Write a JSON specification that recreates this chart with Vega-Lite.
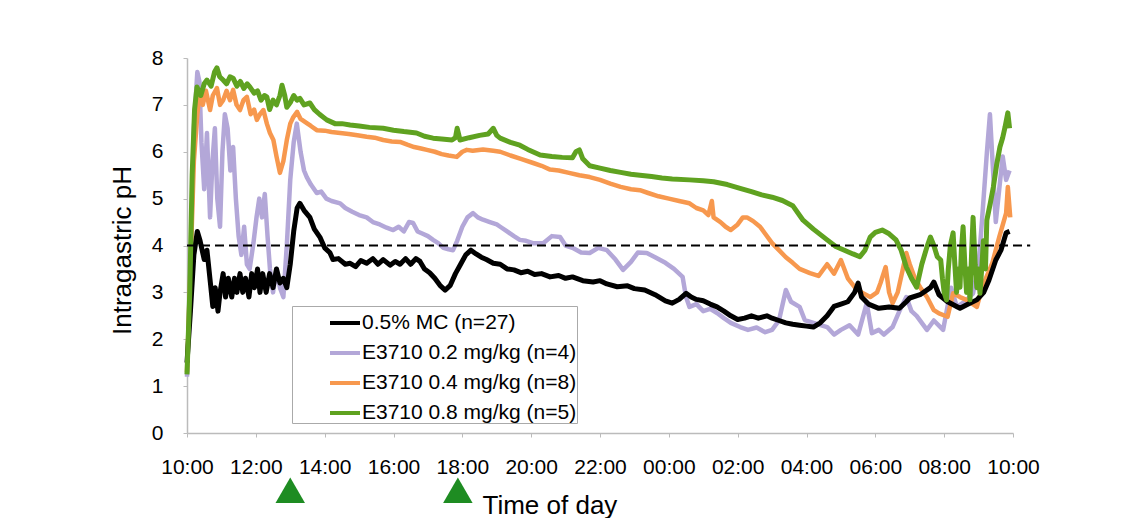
{
  "$schema": "https://vega.github.io/schema/vega-lite/v6.json",
  "width": 826,
  "height": 375,
  "autosize": {"type": "none"},
  "padding": {"left": 187, "top": 58, "right": 125, "bottom": 85},
  "background": "white",
  "config": {"view": {"stroke": null}, "font": "Liberation Sans"},
  "datasets": {
    "mc": [
      {"t":0,"pH":1.5},{"t":0.1,"pH":2.6},{"t":0.2,"pH":3.8},{"t":0.3,"pH":4.3},{"t":0.38,"pH":4.1},{"t":0.5,"pH":3.7},{"t":0.58,"pH":3.9},{"t":0.68,"pH":3.2},{"t":0.75,"pH":2.7},{"t":0.82,"pH":3.1},{"t":0.9,"pH":2.6},{"t":0.96,"pH":3.0},{"t":1.05,"pH":3.4},{"t":1.12,"pH":2.9},{"t":1.2,"pH":3.3},{"t":1.3,"pH":2.9},{"t":1.38,"pH":3.3},{"t":1.45,"pH":3.0},{"t":1.54,"pH":3.4},{"t":1.62,"pH":3.0},{"t":1.7,"pH":3.3},{"t":1.8,"pH":2.9},{"t":1.88,"pH":3.4},{"t":1.96,"pH":3.1},{"t":2.05,"pH":3.5},{"t":2.12,"pH":3.0},{"t":2.2,"pH":3.4},{"t":2.3,"pH":3.0},{"t":2.4,"pH":3.4},{"t":2.5,"pH":3.1},{"t":2.6,"pH":3.5},{"t":2.7,"pH":3.2},{"t":2.8,"pH":3.3},{"t":2.9,"pH":3.1},{"t":3.0,"pH":3.6},{"t":3.1,"pH":4.3},{"t":3.2,"pH":4.8},{"t":3.28,"pH":4.9},{"t":3.4,"pH":4.75},{"t":3.57,"pH":4.6},{"t":3.7,"pH":4.35},{"t":3.86,"pH":4.18},{"t":4.0,"pH":3.95},{"t":4.15,"pH":3.85},{"t":4.24,"pH":3.7},{"t":4.4,"pH":3.72},{"t":4.6,"pH":3.6},{"t":4.74,"pH":3.62},{"t":4.9,"pH":3.55},{"t":5.05,"pH":3.68},{"t":5.22,"pH":3.62},{"t":5.4,"pH":3.72},{"t":5.55,"pH":3.6},{"t":5.7,"pH":3.7},{"t":5.9,"pH":3.58},{"t":6.05,"pH":3.66},{"t":6.19,"pH":3.6},{"t":6.35,"pH":3.72},{"t":6.5,"pH":3.6},{"t":6.65,"pH":3.72},{"t":6.77,"pH":3.66},{"t":6.9,"pH":3.5},{"t":7.05,"pH":3.42},{"t":7.2,"pH":3.3},{"t":7.35,"pH":3.15},{"t":7.5,"pH":3.05},{"t":7.65,"pH":3.15},{"t":7.8,"pH":3.4},{"t":7.95,"pH":3.6},{"t":8.1,"pH":3.8},{"t":8.25,"pH":3.9},{"t":8.4,"pH":3.82},{"t":8.55,"pH":3.75},{"t":8.7,"pH":3.7},{"t":8.9,"pH":3.62},{"t":9.1,"pH":3.6},{"t":9.3,"pH":3.5},{"t":9.5,"pH":3.48},{"t":9.7,"pH":3.42},{"t":9.9,"pH":3.45},{"t":10.1,"pH":3.38},{"t":10.3,"pH":3.4},{"t":10.55,"pH":3.33},{"t":10.8,"pH":3.36},{"t":11.0,"pH":3.3},{"t":11.2,"pH":3.33},{"t":11.5,"pH":3.25},{"t":11.8,"pH":3.22},{"t":12.0,"pH":3.25},{"t":12.2,"pH":3.18},{"t":12.5,"pH":3.12},{"t":12.8,"pH":3.14},{"t":13.0,"pH":3.08},{"t":13.3,"pH":3.05},{"t":13.6,"pH":2.95},{"t":13.9,"pH":2.82},{"t":14.1,"pH":2.77},{"t":14.3,"pH":2.85},{"t":14.5,"pH":2.98},{"t":14.65,"pH":2.9},{"t":14.8,"pH":2.85},{"t":15.0,"pH":2.82},{"t":15.2,"pH":2.75},{"t":15.4,"pH":2.69},{"t":15.6,"pH":2.6},{"t":15.8,"pH":2.5},{"t":16.0,"pH":2.42},{"t":16.2,"pH":2.45},{"t":16.4,"pH":2.5},{"t":16.6,"pH":2.45},{"t":16.85,"pH":2.5},{"t":17.0,"pH":2.45},{"t":17.2,"pH":2.4},{"t":17.4,"pH":2.35},{"t":17.6,"pH":2.32},{"t":17.8,"pH":2.3},{"t":18.0,"pH":2.28},{"t":18.2,"pH":2.26},{"t":18.4,"pH":2.35},{"t":18.6,"pH":2.5},{"t":18.8,"pH":2.7},{"t":19.0,"pH":2.75},{"t":19.2,"pH":2.8},{"t":19.4,"pH":3.0},{"t":19.5,"pH":3.2},{"t":19.6,"pH":2.9},{"t":19.8,"pH":2.75},{"t":20.1,"pH":2.66},{"t":20.4,"pH":2.69},{"t":20.7,"pH":2.66},{"t":20.9,"pH":2.8},{"t":21.0,"pH":2.88},{"t":21.3,"pH":2.95},{"t":21.6,"pH":3.1},{"t":21.7,"pH":3.22},{"t":21.85,"pH":2.95},{"t":22.1,"pH":2.8},{"t":22.46,"pH":2.66},{"t":22.7,"pH":2.75},{"t":22.95,"pH":2.84},{"t":23.15,"pH":3.0},{"t":23.3,"pH":3.26},{"t":23.5,"pH":3.69},{"t":23.65,"pH":3.9},{"t":23.8,"pH":4.27},{"t":23.9,"pH":4.3}
    ],
    "d02": [
      {"t":0,"pH":1.2},{"t":0.1,"pH":3.5},{"t":0.2,"pH":6.5},{"t":0.3,"pH":7.7},{"t":0.36,"pH":7.5},{"t":0.42,"pH":6.2},{"t":0.5,"pH":5.2},{"t":0.58,"pH":6.4},{"t":0.67,"pH":4.6},{"t":0.74,"pH":5.8},{"t":0.81,"pH":6.5},{"t":0.88,"pH":5.0},{"t":0.96,"pH":4.4},{"t":1.03,"pH":6.0},{"t":1.1,"pH":6.8},{"t":1.18,"pH":6.5},{"t":1.26,"pH":5.6},{"t":1.34,"pH":6.1},{"t":1.42,"pH":5.0},{"t":1.5,"pH":4.2},{"t":1.58,"pH":3.8},{"t":1.66,"pH":4.4},{"t":1.74,"pH":3.6},{"t":1.82,"pH":3.5},{"t":1.93,"pH":4.05},{"t":2.02,"pH":4.6},{"t":2.1,"pH":5.0},{"t":2.18,"pH":4.6},{"t":2.26,"pH":5.1},{"t":2.34,"pH":4.2},{"t":2.41,"pH":3.5},{"t":2.5,"pH":3.0},{"t":2.6,"pH":3.5},{"t":2.7,"pH":3.1},{"t":2.8,"pH":2.9},{"t":2.9,"pH":4.0},{"t":3.0,"pH":5.4},{"t":3.1,"pH":6.2},{"t":3.19,"pH":6.6},{"t":3.3,"pH":6.0},{"t":3.4,"pH":5.6},{"t":3.48,"pH":5.46},{"t":3.6,"pH":5.3},{"t":3.77,"pH":5.12},{"t":3.9,"pH":5.15},{"t":4.05,"pH":5.0},{"t":4.2,"pH":4.95},{"t":4.45,"pH":4.9},{"t":4.6,"pH":4.8},{"t":4.8,"pH":4.72},{"t":5.0,"pH":4.65},{"t":5.22,"pH":4.6},{"t":5.4,"pH":4.5},{"t":5.6,"pH":4.45},{"t":5.8,"pH":4.38},{"t":5.99,"pH":4.33},{"t":6.15,"pH":4.4},{"t":6.3,"pH":4.3},{"t":6.45,"pH":4.5},{"t":6.57,"pH":4.48},{"t":6.7,"pH":4.3},{"t":6.85,"pH":4.25},{"t":7.0,"pH":4.2},{"t":7.15,"pH":4.12},{"t":7.3,"pH":4.05},{"t":7.45,"pH":3.95},{"t":7.6,"pH":3.92},{"t":7.73,"pH":3.9},{"t":7.85,"pH":4.1},{"t":8.0,"pH":4.4},{"t":8.15,"pH":4.6},{"t":8.31,"pH":4.69},{"t":8.45,"pH":4.6},{"t":8.6,"pH":4.55},{"t":8.8,"pH":4.5},{"t":9.0,"pH":4.45},{"t":9.1,"pH":4.4},{"t":9.3,"pH":4.3},{"t":9.5,"pH":4.2},{"t":9.67,"pH":4.12},{"t":9.85,"pH":4.1},{"t":10.05,"pH":4.05},{"t":10.35,"pH":4.05},{"t":10.6,"pH":4.2},{"t":10.84,"pH":4.18},{"t":11.0,"pH":4.0},{"t":11.2,"pH":3.95},{"t":11.45,"pH":3.85},{"t":11.7,"pH":3.84},{"t":11.95,"pH":3.95},{"t":12.2,"pH":3.9},{"t":12.45,"pH":3.7},{"t":12.67,"pH":3.48},{"t":12.9,"pH":3.65},{"t":13.1,"pH":3.85},{"t":13.36,"pH":3.84},{"t":13.6,"pH":3.75},{"t":13.9,"pH":3.63},{"t":14.15,"pH":3.5},{"t":14.4,"pH":3.33},{"t":14.5,"pH":2.9},{"t":14.6,"pH":2.69},{"t":14.8,"pH":2.75},{"t":15.0,"pH":2.6},{"t":15.2,"pH":2.65},{"t":15.4,"pH":2.56},{"t":15.6,"pH":2.45},{"t":15.8,"pH":2.35},{"t":16.07,"pH":2.26},{"t":16.3,"pH":2.2},{"t":16.55,"pH":2.25},{"t":16.8,"pH":2.15},{"t":17.0,"pH":2.2},{"t":17.2,"pH":2.4},{"t":17.4,"pH":3.05},{"t":17.55,"pH":2.8},{"t":17.8,"pH":2.69},{"t":17.95,"pH":2.41},{"t":18.2,"pH":2.35},{"t":18.6,"pH":2.26},{"t":18.8,"pH":2.1},{"t":19.0,"pH":2.2},{"t":19.25,"pH":2.3},{"t":19.5,"pH":2.1},{"t":19.75,"pH":2.77},{"t":19.9,"pH":2.13},{"t":20.1,"pH":2.2},{"t":20.25,"pH":2.1},{"t":20.5,"pH":2.26},{"t":20.7,"pH":2.6},{"t":20.9,"pH":2.9},{"t":21.05,"pH":2.6},{"t":21.2,"pH":2.5},{"t":21.5,"pH":2.2},{"t":21.7,"pH":2.4},{"t":21.97,"pH":2.2},{"t":22.2,"pH":3.1},{"t":22.37,"pH":2.69},{"t":22.6,"pH":2.8},{"t":22.84,"pH":2.98},{"t":23.0,"pH":3.6},{"t":23.1,"pH":4.54},{"t":23.24,"pH":5.97},{"t":23.33,"pH":6.8},{"t":23.42,"pH":5.6},{"t":23.5,"pH":4.5},{"t":23.6,"pH":5.2},{"t":23.7,"pH":5.9},{"t":23.8,"pH":5.4},{"t":23.9,"pH":5.6}
    ],
    "d04": [
      {"t":0,"pH":1.3},{"t":0.1,"pH":3.5},{"t":0.2,"pH":5.8},{"t":0.3,"pH":6.8},{"t":0.38,"pH":7.3},{"t":0.46,"pH":7.0},{"t":0.55,"pH":7.3},{"t":0.67,"pH":6.89},{"t":0.75,"pH":7.2},{"t":0.87,"pH":7.36},{"t":0.96,"pH":7.0},{"t":1.05,"pH":7.1},{"t":1.15,"pH":7.3},{"t":1.25,"pH":7.1},{"t":1.34,"pH":7.32},{"t":1.44,"pH":7.0},{"t":1.54,"pH":6.89},{"t":1.64,"pH":7.1},{"t":1.74,"pH":7.17},{"t":1.85,"pH":6.8},{"t":1.95,"pH":6.9},{"t":2.03,"pH":6.68},{"t":2.12,"pH":6.8},{"t":2.22,"pH":6.89},{"t":2.32,"pH":6.6},{"t":2.41,"pH":6.4},{"t":2.51,"pH":6.25},{"t":2.6,"pH":5.9},{"t":2.7,"pH":5.55},{"t":2.8,"pH":5.8},{"t":2.9,"pH":6.25},{"t":3.0,"pH":6.6},{"t":3.09,"pH":6.74},{"t":3.2,"pH":6.85},{"t":3.3,"pH":6.7},{"t":3.48,"pH":6.61},{"t":3.6,"pH":6.55},{"t":3.77,"pH":6.46},{"t":4.0,"pH":6.45},{"t":4.2,"pH":6.42},{"t":4.45,"pH":6.4},{"t":4.7,"pH":6.38},{"t":4.95,"pH":6.35},{"t":5.22,"pH":6.32},{"t":5.45,"pH":6.3},{"t":5.7,"pH":6.25},{"t":5.95,"pH":6.22},{"t":6.19,"pH":6.21},{"t":6.4,"pH":6.15},{"t":6.6,"pH":6.1},{"t":6.8,"pH":6.07},{"t":6.97,"pH":6.04},{"t":7.2,"pH":6.0},{"t":7.4,"pH":5.95},{"t":7.6,"pH":5.92},{"t":7.84,"pH":5.89},{"t":8.0,"pH":6.0},{"t":8.13,"pH":6.04},{"t":8.3,"pH":6.02},{"t":8.6,"pH":6.05},{"t":8.9,"pH":6.02},{"t":9.1,"pH":6.0},{"t":9.4,"pH":5.92},{"t":9.7,"pH":5.85},{"t":10.06,"pH":5.76},{"t":10.3,"pH":5.7},{"t":10.55,"pH":5.62},{"t":10.8,"pH":5.6},{"t":11.1,"pH":5.55},{"t":11.4,"pH":5.5},{"t":11.7,"pH":5.46},{"t":12.0,"pH":5.4},{"t":12.3,"pH":5.32},{"t":12.6,"pH":5.25},{"t":12.9,"pH":5.2},{"t":13.16,"pH":5.18},{"t":13.4,"pH":5.12},{"t":13.7,"pH":5.05},{"t":14.0,"pH":5.0},{"t":14.3,"pH":4.95},{"t":14.6,"pH":4.9},{"t":14.8,"pH":4.8},{"t":15.0,"pH":4.75},{"t":15.15,"pH":4.65},{"t":15.25,"pH":4.95},{"t":15.3,"pH":4.6},{"t":15.5,"pH":4.5},{"t":15.65,"pH":4.4},{"t":15.8,"pH":4.33},{"t":16.0,"pH":4.45},{"t":16.15,"pH":4.6},{"t":16.27,"pH":4.6},{"t":16.45,"pH":4.52},{"t":16.65,"pH":4.4},{"t":16.8,"pH":4.25},{"t":17.0,"pH":4.05},{"t":17.2,"pH":3.9},{"t":17.4,"pH":3.75},{"t":17.6,"pH":3.63},{"t":17.8,"pH":3.5},{"t":18.1,"pH":3.41},{"t":18.35,"pH":3.35},{"t":18.6,"pH":3.6},{"t":18.8,"pH":3.4},{"t":19.0,"pH":3.69},{"t":19.2,"pH":3.3},{"t":19.4,"pH":3.11},{"t":19.6,"pH":3.0},{"t":19.85,"pH":2.9},{"t":20.05,"pH":3.0},{"t":20.15,"pH":3.2},{"t":20.3,"pH":3.54},{"t":20.4,"pH":3.0},{"t":20.5,"pH":2.77},{"t":20.65,"pH":3.0},{"t":20.8,"pH":3.5},{"t":20.9,"pH":3.84},{"t":21.0,"pH":3.6},{"t":21.15,"pH":3.3},{"t":21.3,"pH":3.11},{"t":21.5,"pH":2.9},{"t":21.7,"pH":2.62},{"t":21.85,"pH":2.55},{"t":22.1,"pH":2.48},{"t":22.26,"pH":2.98},{"t":22.46,"pH":2.9},{"t":22.65,"pH":2.84},{"t":22.95,"pH":2.69},{"t":23.1,"pH":3.1},{"t":23.4,"pH":3.63},{"t":23.6,"pH":4.18},{"t":23.8,"pH":4.69},{"t":23.85,"pH":5.25},{"t":23.92,"pH":4.6}
    ],
    "d08": [
      {"t":0,"pH":1.25},{"t":0.08,"pH":3.0},{"t":0.15,"pH":5.5},{"t":0.22,"pH":6.9},{"t":0.29,"pH":7.38},{"t":0.4,"pH":7.2},{"t":0.5,"pH":7.45},{"t":0.58,"pH":7.53},{"t":0.7,"pH":7.4},{"t":0.8,"pH":7.7},{"t":0.87,"pH":7.79},{"t":0.95,"pH":7.6},{"t":1.05,"pH":7.53},{"t":1.15,"pH":7.45},{"t":1.25,"pH":7.6},{"t":1.34,"pH":7.57},{"t":1.45,"pH":7.4},{"t":1.55,"pH":7.5},{"t":1.65,"pH":7.35},{"t":1.75,"pH":7.45},{"t":1.83,"pH":7.38},{"t":1.95,"pH":7.25},{"t":2.05,"pH":7.3},{"t":2.15,"pH":7.1},{"t":2.25,"pH":7.2},{"t":2.32,"pH":7.17},{"t":2.4,"pH":6.9},{"t":2.5,"pH":7.1},{"t":2.6,"pH":7.0},{"t":2.7,"pH":7.2},{"t":2.76,"pH":7.42},{"t":2.84,"pH":7.2},{"t":2.9,"pH":6.95},{"t":3.0,"pH":7.05},{"t":3.1,"pH":7.2},{"t":3.2,"pH":7.1},{"t":3.28,"pH":7.14},{"t":3.4,"pH":7.0},{"t":3.57,"pH":7.04},{"t":3.7,"pH":6.9},{"t":3.85,"pH":6.8},{"t":4.06,"pH":6.68},{"t":4.3,"pH":6.6},{"t":4.5,"pH":6.6},{"t":4.74,"pH":6.57},{"t":5.0,"pH":6.55},{"t":5.3,"pH":6.52},{"t":5.7,"pH":6.5},{"t":6.0,"pH":6.46},{"t":6.3,"pH":6.43},{"t":6.67,"pH":6.4},{"t":6.9,"pH":6.33},{"t":7.15,"pH":6.29},{"t":7.4,"pH":6.27},{"t":7.7,"pH":6.25},{"t":7.8,"pH":6.3},{"t":7.85,"pH":6.5},{"t":7.9,"pH":6.35},{"t":7.93,"pH":6.25},{"t":8.2,"pH":6.3},{"t":8.5,"pH":6.35},{"t":8.75,"pH":6.38},{"t":8.9,"pH":6.5},{"t":9.0,"pH":6.35},{"t":9.1,"pH":6.29},{"t":9.4,"pH":6.2},{"t":9.67,"pH":6.14},{"t":9.9,"pH":6.05},{"t":10.26,"pH":5.93},{"t":10.6,"pH":5.9},{"t":10.9,"pH":5.88},{"t":11.2,"pH":5.87},{"t":11.3,"pH":6.0},{"t":11.4,"pH":6.04},{"t":11.5,"pH":5.85},{"t":11.7,"pH":5.7},{"t":12.0,"pH":5.65},{"t":12.3,"pH":5.6},{"t":12.6,"pH":5.56},{"t":12.9,"pH":5.52},{"t":13.16,"pH":5.5},{"t":13.5,"pH":5.47},{"t":13.8,"pH":5.44},{"t":14.1,"pH":5.42},{"t":14.6,"pH":5.4},{"t":15.0,"pH":5.38},{"t":15.3,"pH":5.36},{"t":15.7,"pH":5.3},{"t":16.07,"pH":5.22},{"t":16.4,"pH":5.15},{"t":16.7,"pH":5.08},{"t":17.0,"pH":5.03},{"t":17.3,"pH":4.96},{"t":17.6,"pH":4.85},{"t":17.9,"pH":4.54},{"t":18.2,"pH":4.35},{"t":18.6,"pH":4.12},{"t":18.85,"pH":3.98},{"t":19.1,"pH":3.9},{"t":19.35,"pH":3.82},{"t":19.55,"pH":3.76},{"t":19.7,"pH":3.9},{"t":19.85,"pH":4.18},{"t":20.0,"pH":4.28},{"t":20.2,"pH":4.33},{"t":20.4,"pH":4.25},{"t":20.6,"pH":4.12},{"t":20.75,"pH":3.9},{"t":20.9,"pH":3.54},{"t":21.05,"pH":3.3},{"t":21.2,"pH":3.11},{"t":21.35,"pH":3.6},{"t":21.5,"pH":3.97},{"t":21.6,"pH":4.18},{"t":21.7,"pH":4.0},{"t":21.8,"pH":3.76},{"t":21.9,"pH":3.69},{"t":21.95,"pH":3.3},{"t":22.0,"pH":3.0},{"t":22.07,"pH":2.84},{"t":22.12,"pH":3.5},{"t":22.18,"pH":4.0},{"t":22.26,"pH":4.27},{"t":22.31,"pH":3.6},{"t":22.36,"pH":3.0},{"t":22.41,"pH":3.5},{"t":22.46,"pH":3.11},{"t":22.5,"pH":3.9},{"t":22.55,"pH":4.4},{"t":22.6,"pH":3.6},{"t":22.65,"pH":3.0},{"t":22.7,"pH":3.5},{"t":22.75,"pH":2.84},{"t":22.8,"pH":3.9},{"t":22.84,"pH":4.6},{"t":22.9,"pH":3.6},{"t":22.95,"pH":3.1},{"t":23.0,"pH":3.5},{"t":23.04,"pH":2.98},{"t":23.1,"pH":3.6},{"t":23.14,"pH":4.1},{"t":23.2,"pH":3.5},{"t":23.24,"pH":4.54},{"t":23.34,"pH":4.9},{"t":23.43,"pH":5.25},{"t":23.52,"pH":5.7},{"t":23.62,"pH":6.1},{"t":23.7,"pH":6.3},{"t":23.77,"pH":6.53},{"t":23.85,"pH":6.83},{"t":23.9,"pH":6.5}
    ],
    "ref": [{"t":0,"pH":4},{"t":24.5,"pH":4}],
    "dose": [{"t":3.0,"pH":-1.22},{"t":7.87,"pH":-1.22}]
  },
  "encoding": {
    "x": {
      "field": "t", "type": "quantitative",
      "scale": {"domain": [0, 24], "nice": false, "zero": false},
      "axis": {
        "title": "Time of day",
        "values": [0,2,4,6,8,10,12,14,16,18,20,22,24],
        "labelExpr": "(((datum.value+10)%24) < 10 ? '0' : '') + ((datum.value+10)%24) + ':00'",
        "labelFontSize": 21, "labelColor": "black", "labelPadding": 19, "labelFlush": false,
        "tickSize": 4, "tickColor": "#bbbbbb", "domainColor": "#bbbbbb", "domainWidth": 1.5, "grid": false,
        "titleFontSize": 26, "titleFontWeight": "normal", "titleColor": "black",
        "titleX": 295, "titleY": 80, "titleAlign": "left", "titleBaseline": "alphabetic", "titleAnchor": null
      }
    },
    "y": {
      "field": "pH", "type": "quantitative",
      "scale": {"domain": [0, 8], "nice": false},
      "axis": {
        "title": "Intragastric pH",
        "values": [0,1,2,3,4,5,6,7,8],
        "labelFontSize": 21, "labelColor": "black", "labelPadding": 20,
        "tickSize": 4, "tickColor": "#bbbbbb", "domainColor": "#bbbbbb", "domainWidth": 1.5, "grid": false,
        "titleFontSize": 26, "titleFontWeight": "normal", "titleColor": "black",
        "titleX": -65, "titleY": 192, "titleBaseline": "middle", "titleAlign": "center", "titleAngle": 270
      }
    }
  },
  "layer": [
    {
      "data": {"name": "d02"},
      "mark": {"type": "line", "strokeWidth": 4.5, "strokeJoin": "round"},
      "encoding": {
        "color": {
          "datum": "E3710 0.2 mg/kg (n=4)",
          "scale": {
            "domain": ["0.5% MC (n=27)", "E3710 0.2 mg/kg (n=4)", "E3710 0.4 mg/kg (n=8)", "E3710 0.8 mg/kg (n=5)"],
            "range": ["#000000", "#b3a7d8", "#f7984e", "#5fa220"]
          },
          "legend": {
            "title": null, "orient": "none", "legendX": 105, "legendY": 248,
            "symbolType": "stroke", "symbolSize": 900, "symbolStrokeWidth": 4,
            "symbolOffset": 36, "labelOffset": 0, "labelLimit": 600,
            "labelFontSize": 21, "labelColor": "black",
            "labelExpr": "datum.label + '\u2002\u2002\u2002'",
            "strokeColor": "#aaaaaa", "fillColor": "white", "padding": 0, "rowPadding": 3
          }
        }
      }
    },
    {
      "data": {"name": "d04"},
      "mark": {"type": "line", "strokeWidth": 4.5, "strokeJoin": "round"},
      "encoding": {"color": {"datum": "E3710 0.4 mg/kg (n=8)"}}
    },
    {
      "data": {"name": "mc"},
      "mark": {"type": "line", "strokeWidth": 5, "strokeJoin": "round"},
      "encoding": {"color": {"datum": "0.5% MC (n=27)"}}
    },
    {
      "data": {"name": "d08"},
      "mark": {"type": "line", "strokeWidth": 5, "strokeJoin": "round"},
      "encoding": {"color": {"datum": "E3710 0.8 mg/kg (n=5)"}}
    },
    {
      "data": {"name": "ref"},
      "mark": {"type": "line", "stroke": "black", "strokeWidth": 2, "strokeDash": [9, 5]},
      "encoding": {}
    },
    {
      "data": {"name": "dose"},
      "mark": {"type": "point", "shape": "triangle-up", "size": 870, "filled": true, "color": "#1e8c22", "opacity": 1},
      "encoding": {}
    }
  ]
}
